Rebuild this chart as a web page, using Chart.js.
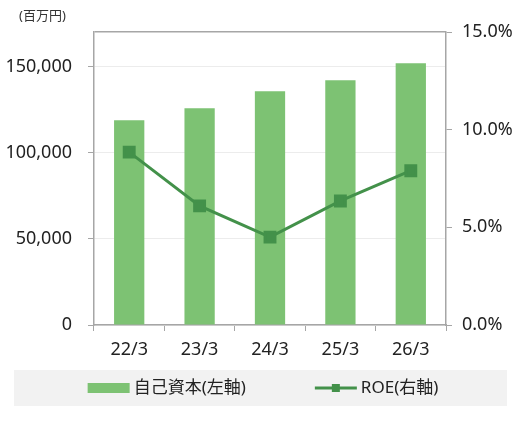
<!DOCTYPE html>
<html>
<head>
<meta charset="utf-8">
<script src="https://cdn.jsdelivr.net/npm/chart.js@4/dist/chart.umd.min.js"></script>
<style>
  html, body { margin: 0; padding: 0; background: #fff; }
  #wrap { width: 520px; height: 423px; }
</style>
</head>
<body>
<div id="wrap"><canvas id="chart" width="520" height="423"></canvas></div>
<script>
// data
const categories = ['22/3', '23/3', '24/3', '25/3', '26/3'];
const equityValues = [118800, 125800, 135600, 142000, 151800];
const roeValues = [8.85, 6.1, 4.5, 6.35, 7.9];
const leftTicks = [0, 50000, 100000, 150000];
const leftMax = 170000;
const rightTicks = [0, 5, 10, 15];
const equityLabel = '自己資本(左軸)';
const roeLabel = 'ROE(右軸)';
const unitLabel = '(百万円)';

const FONT = "'Noto Sans', 'Noto Sans CJK JP', sans-serif";
const BAR_COLOR = '#7dc273';
const LINE_COLOR = '#43914a';
const AXIS_COLOR = '#a6a6a6';
const GRID_COLOR = '#ececec';

// unit text above the left axis
const unitPlugin = {
    id: 'unitText',
    afterDraw(chart) {
        const ctx = chart.ctx;
        ctx.save();
        ctx.font = '13px ' + FONT;
        ctx.fillStyle = '#333';
        ctx.textBaseline = 'middle';
        ctx.fillText(unitLabel, 19, 16);
        ctx.restore();
    }
};

// grey legend strip at the bottom, drawn by hand
const legendPlugin = {
    id: 'legendStrip',
    afterDraw(chart) {
        const ctx = chart.ctx;
        const ds = chart.data.datasets;
        const top = 370, bottom = 406, cy = (top + bottom) / 2;
        ctx.save();
        ctx.fillStyle = '#f2f2f2';
        ctx.fillRect(14, top, 493, bottom - top);

        ctx.font = '17px ' + FONT;
        ctx.textBaseline = 'middle';
        const swatch = 42, gap = 4, between = 69;
        const w1 = ctx.measureText(ds[0].label).width;
        const w2 = ctx.measureText(ds[1].label).width;
        const total = swatch + gap + w1 + between + swatch + gap + w2;
        let x = 263 - total / 2;

        // bar item
        ctx.fillStyle = ds[0].backgroundColor;
        ctx.fillRect(x, cy - 5, swatch, 10);
        ctx.fillStyle = '#222';
        ctx.fillText(ds[0].label, x + swatch + gap, cy);
        x += swatch + gap + w1 + between;

        // line item
        ctx.strokeStyle = ds[1].borderColor;
        ctx.lineWidth = 3;
        ctx.beginPath();
        ctx.moveTo(x, cy);
        ctx.lineTo(x + swatch, cy);
        ctx.stroke();
        ctx.fillStyle = ds[1].borderColor;
        ctx.fillRect(x + swatch / 2 - 4, cy - 4, 8, 8);
        ctx.fillStyle = '#222';
        ctx.fillText(ds[1].label, x + swatch + gap, cy);
        ctx.restore();
    }
};

const isTop = (c) => c.tick && c.tick.value === leftMax;

new Chart(document.getElementById('chart'), {
    data: {
        labels: categories,
        datasets: [
            {
                type: 'bar',
                label: equityLabel,
                data: equityValues,
                backgroundColor: BAR_COLOR,
                yAxisID: 'y',
                categoryPercentage: 1,
                barPercentage: 0.43,
                order: 2
            },
            {
                type: 'line',
                label: roeLabel,
                data: roeValues,
                borderColor: LINE_COLOR,
                backgroundColor: LINE_COLOR,
                borderWidth: 3,
                pointStyle: 'rect',
                pointRadius: 7,
                pointHoverRadius: 7,
                tension: 0,
                yAxisID: 'y1',
                order: 1
            }
        ]
    },
    options: {
        responsive: false,
        animation: false,
        layout: { padding: { top: 32, left: 0, right: 0, bottom: 53 } },
        plugins: {
            legend: { display: false },
            tooltip: { enabled: false }
        },
        scales: {
            x: {
                offset: true,
                grid: {
                    offset: true,
                    drawOnChartArea: false,
                    tickLength: 6,
                    tickColor: AXIS_COLOR
                },
                border: { color: AXIS_COLOR, width: 1.5 },
                ticks: {
                    color: '#222',
                    font: { family: FONT, size: 18 },
                    padding: 8
                },
                afterFit(scale) { scale.height = 45; }
            },
            y: {
                position: 'left',
                min: 0,
                max: leftMax,
                afterBuildTicks(scale) {
                    // stepSize with a max that is not a multiple gets rescaled by Chart.js
                    scale.ticks = leftTicks.concat([leftMax]).map(v => ({ value: v }));
                },
                ticks: {
                    color: '#222',
                    font: { family: FONT, size: 18 },
                    padding: 16,
                    callback: (v) => v === leftMax ? '' : v.toLocaleString('en-US')
                },
                grid: {
                    tickLength: 6,
                    color: (c) => isTop(c) ? AXIS_COLOR : GRID_COLOR,
                    lineWidth: (c) => isTop(c) ? 1.5 : 1,
                    tickColor: (c) => isTop(c) ? 'rgba(0,0,0,0)' : AXIS_COLOR
                },
                border: { color: AXIS_COLOR, width: 1.5 },
                afterFit(scale) { scale.width = 94; }
            },
            y1: {
                position: 'right',
                min: rightTicks[0],
                max: rightTicks[rightTicks.length - 1],
                afterBuildTicks(scale) {
                    scale.ticks = rightTicks.map(v => ({ value: v }));
                },
                ticks: {
                    color: '#222',
                    font: { family: FONT, size: 18 },
                    padding: 10,
                    callback: (v) => v.toFixed(1) + '%'
                },
                grid: {
                    drawOnChartArea: false,
                    tickLength: 6,
                    tickColor: AXIS_COLOR
                },
                border: { color: AXIS_COLOR, width: 1.5 },
                afterFit(scale) { scale.width = 74; }
            }
        }
    },
    plugins: [unitPlugin, legendPlugin]
});
</script>
</body>
</html>
